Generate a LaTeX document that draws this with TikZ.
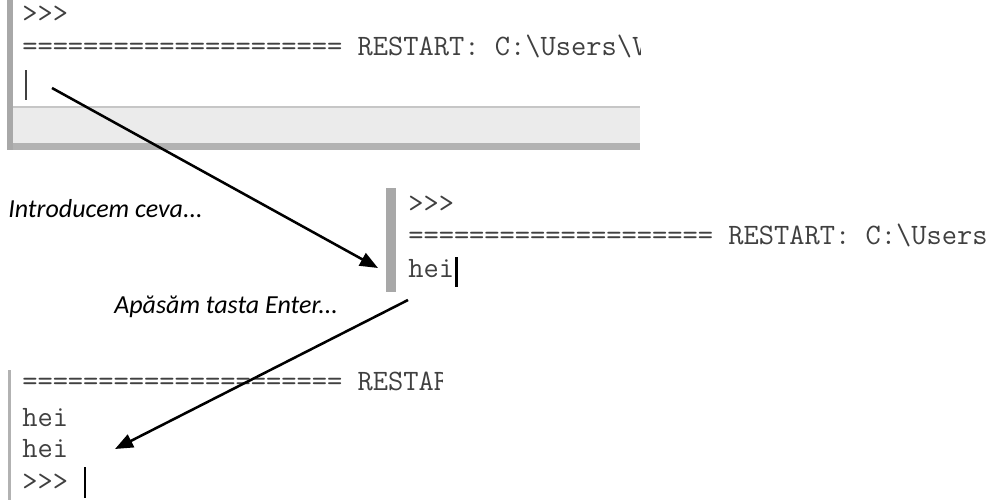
\documentclass[tikz,border=0pt]{standalone}
\usepackage{fontspec}
\newfontfamily\notefont{Carlito}
\usetikzlibrary{arrows.meta}
\definecolor{idlegray}{HTML}{404040}
\definecolor{barshade}{HTML}{A8A8A8}
\definecolor{stripgray}{HTML}{EBEBEB}

\begin{document}
\begin{tikzpicture}[x=0.75pt,y=-0.75pt]
% Define styles
\tikzstyle{shell} = [anchor=base west, inner sep=0pt, text=idlegray, font=\fontsize{22.2}{22.2}\selectfont\ttfamily]
\tikzstyle{note} = [anchor=base west, inner sep=0pt, font=\fontsize{19.5}{19.5}\selectfont\notefont\itshape]
\tikzstyle{caret} = [line width=2.2pt, black]
\tikzstyle{arrow} = [line width=1.9pt, -{Triangle[length=13.5pt,width=10.5pt]}]

\useasboundingbox (0,0) rectangle (993,500);

% Panel 1
\begin{scope}
\clip (0,0) rectangle (640,152);
\fill[stripgray] (13,108) rectangle (640,143);
\draw[gray!45, line width=1pt] (13,107) -- (640,107);
\fill[gray!60] (7,143) rectangle (640,150);
\fill[barshade] (7,0) rectangle (13,150);
\node (top-prompt) [shell] at (22,22) {\textgreater\textgreater\textgreater};
\node (top-restart) [shell] at (22,55) {=====================~RESTART:~C:\textbackslash Users\textbackslash V};
\draw[idlegray, line width=1.2pt] (26,70) -- (26,100);
\end{scope}

% Panel 2
\begin{scope}
\clip (380,180) rectangle (993,296);
\fill[barshade] (386,188) rectangle (396,292);
\node (mid-prompt) [shell] at (408,212) {\textgreater\textgreater\textgreater};
\node (mid-restart) [shell] at (408,244) {====================~RESTART:~C:\textbackslash Users};
\node (mid-hei) [shell] at (408,277) {hei};
\draw[caret] (mid-hei.base east) ++(2,-20) -- ++(0,30);
\end{scope}

% Panel 3
\begin{scope}
\clip (0,365) rectangle (442,500);
\fill[gray!60] (8,370) rectangle (11,500);
\node (low-restart) [shell] at (22,390) {=====================~RESTART};
\node (low-hei1) [shell] at (22,426) {hei};
\node (low-hei2) [shell] at (22,457) {hei};
\node (low-prompt) [shell] at (22,490) {\textgreater\textgreater\textgreater};
\draw[caret] (85,467) -- (85,498);
\end{scope}

% Notes
\node (note-type) [note] at (8,217) {Introducem ceva...};
\node (note-enter) [note] at (114,313) {Apăsăm tasta Enter...};

% Arrows
\coordinate (from-top) at (52,88);
\coordinate (to-mid) at (378,268);
\coordinate (from-mid) at (408,300);
\coordinate (to-low) at (115,449);
\draw[arrow] (from-top) -- (to-mid);
\draw[arrow] (from-mid) -- (to-low);
\end{tikzpicture}
\end{document}
